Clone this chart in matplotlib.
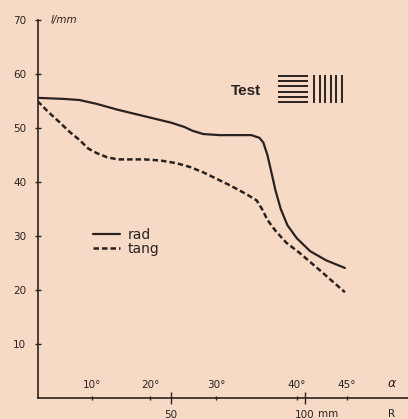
import numpy as np
import matplotlib
matplotlib.use("Agg")
import matplotlib.pyplot as plt
import matplotlib.transforms as mtransforms

# --- data (R in mm, resolution in lines/mm) ---
rad_r = [0, 10, 15.7, 22, 30, 40, 50, 55, 58, 62, 68, 75, 80, 83, 84.5, 86,
         87.5, 89, 91, 93.5, 97, 102, 108, 115]
rad_v = [55.6, 55.4, 55.2, 54.5, 53.4, 52.2, 51.0, 50.2, 49.5, 48.9, 48.7, 48.7,
         48.7, 48.2, 47.3, 45.0, 41.8, 38.5, 35.0, 32.0, 29.6, 27.2, 25.5, 24.1]

tang_r = [0, 4, 8.2, 12, 15.7, 19, 22, 26, 30, 40, 46, 52, 57, 62, 72, 78, 82,
          84, 86, 89, 93, 98, 106, 115]
tang_v = [55.0, 53.0, 51.1, 49.3, 47.8, 46.2, 45.4, 44.6, 44.2, 44.2, 44.0, 43.5,
          42.8, 41.8, 39.4, 37.8, 36.6, 35.0, 33.0, 31.0, 28.8, 26.9, 23.5, 19.6]

y_ticks = [10, 20, 30, 40, 50, 60, 70]
r_ticks = [50, 100]
angle_ticks = [10, 20, 30, 40, 45]
focal_mm = 115.7  # R = f * tan(alpha)

PAPER = "#f6dac6"
INK = "#2b2220"

fig = plt.figure(figsize=(4.08, 4.19), dpi=100, facecolor=PAPER)
ax = fig.add_axes([0.092, 0.050, 0.908, 0.902], facecolor=PAPER)

ax.plot(rad_r, rad_v, color=INK, lw=1.6, solid_capstyle="round",
        solid_joinstyle="round", label="rad")
ax.plot(tang_r, tang_v, color=INK, lw=1.8, dashes=(2.2, 1.2), label="tang")

ax.set_xlim(0, 138.6)
ax.set_ylim(0, 70)

for side in ("top", "right"):
    ax.spines[side].set_visible(False)
for side in ("left", "bottom"):
    ax.spines[side].set_color(INK)
    ax.spines[side].set_linewidth(1.2)

ax.set_yticks(y_ticks)
ax.set_yticklabels([str(v) for v in y_ticks])
ax.tick_params(axis="y", direction="inout", length=4, width=1, colors=INK,
               labelsize=7.5, pad=6)

ax.set_xticks(r_ticks)
ax.set_xticklabels([str(v) for v in r_ticks])
ax.tick_params(axis="x", direction="inout", length=9, width=1, colors=INK,
               labelsize=7.5, pad=4)

# angle scale on the same axis
angle_pos = [focal_mm * np.tan(np.radians(a)) for a in angle_ticks]
ax.set_xticks(angle_pos, minor=True)
ax.tick_params(axis="x", which="minor", direction="inout", length=3, width=1,
               colors=INK)
trans = mtransforms.blended_transform_factory(ax.transData, ax.transAxes)
for a, xp in zip(angle_ticks, angle_pos):
    ax.text(xp, 0.022, f"{a}°", transform=trans, ha="center", va="bottom",
            fontsize=7.5, color=INK)

ax.text(132.6, 0.022, "α", transform=trans, ha="center", va="bottom",
        fontsize=9, color=INK, style="italic")
ax.text(132.6, -0.028, "R", transform=trans, ha="center", va="top",
        fontsize=7.5, color=INK)
ax.text(108.6, -0.028, "mm", transform=trans, ha="center", va="top",
        fontsize=7.5, color=INK)

ax.text(0.035, 1.0, "l/mm", transform=ax.transAxes, ha="left", va="center",
        fontsize=7.5, color=INK, style="italic")

leg = ax.legend(loc="upper left", bbox_to_anchor=(0.115, 0.484), frameon=False,
                handlelength=2.0, handletextpad=0.5, labelspacing=0.05,
                prop={"family": "DejaVu Sans", "size": 10})
for t in leg.get_texts():
    t.set_color(INK)

# "Test" with the line-pattern target
fig.text(0.565, 0.782, "Test", family="Liberation Sans", weight="bold",
         fontsize=11, color=INK, ha="left", va="center")
pat = fig.add_axes([278 / 408, (419 - 103) / 419, 65 / 408, 28 / 419])
pat.set_xlim(0, 65)
pat.set_ylim(0, 28)
pat.axis("off")
n_lines = 6
for yy in np.linspace(1, 27, n_lines):
    pat.plot([0, 30], [yy, yy], color=INK, lw=1.4, solid_capstyle="butt")
for xx in np.linspace(36, 64, n_lines):
    pat.plot([xx, xx], [0, 28], color=INK, lw=1.4, solid_capstyle="butt")

fig.savefig("out.png", dpi=100, facecolor=PAPER)
